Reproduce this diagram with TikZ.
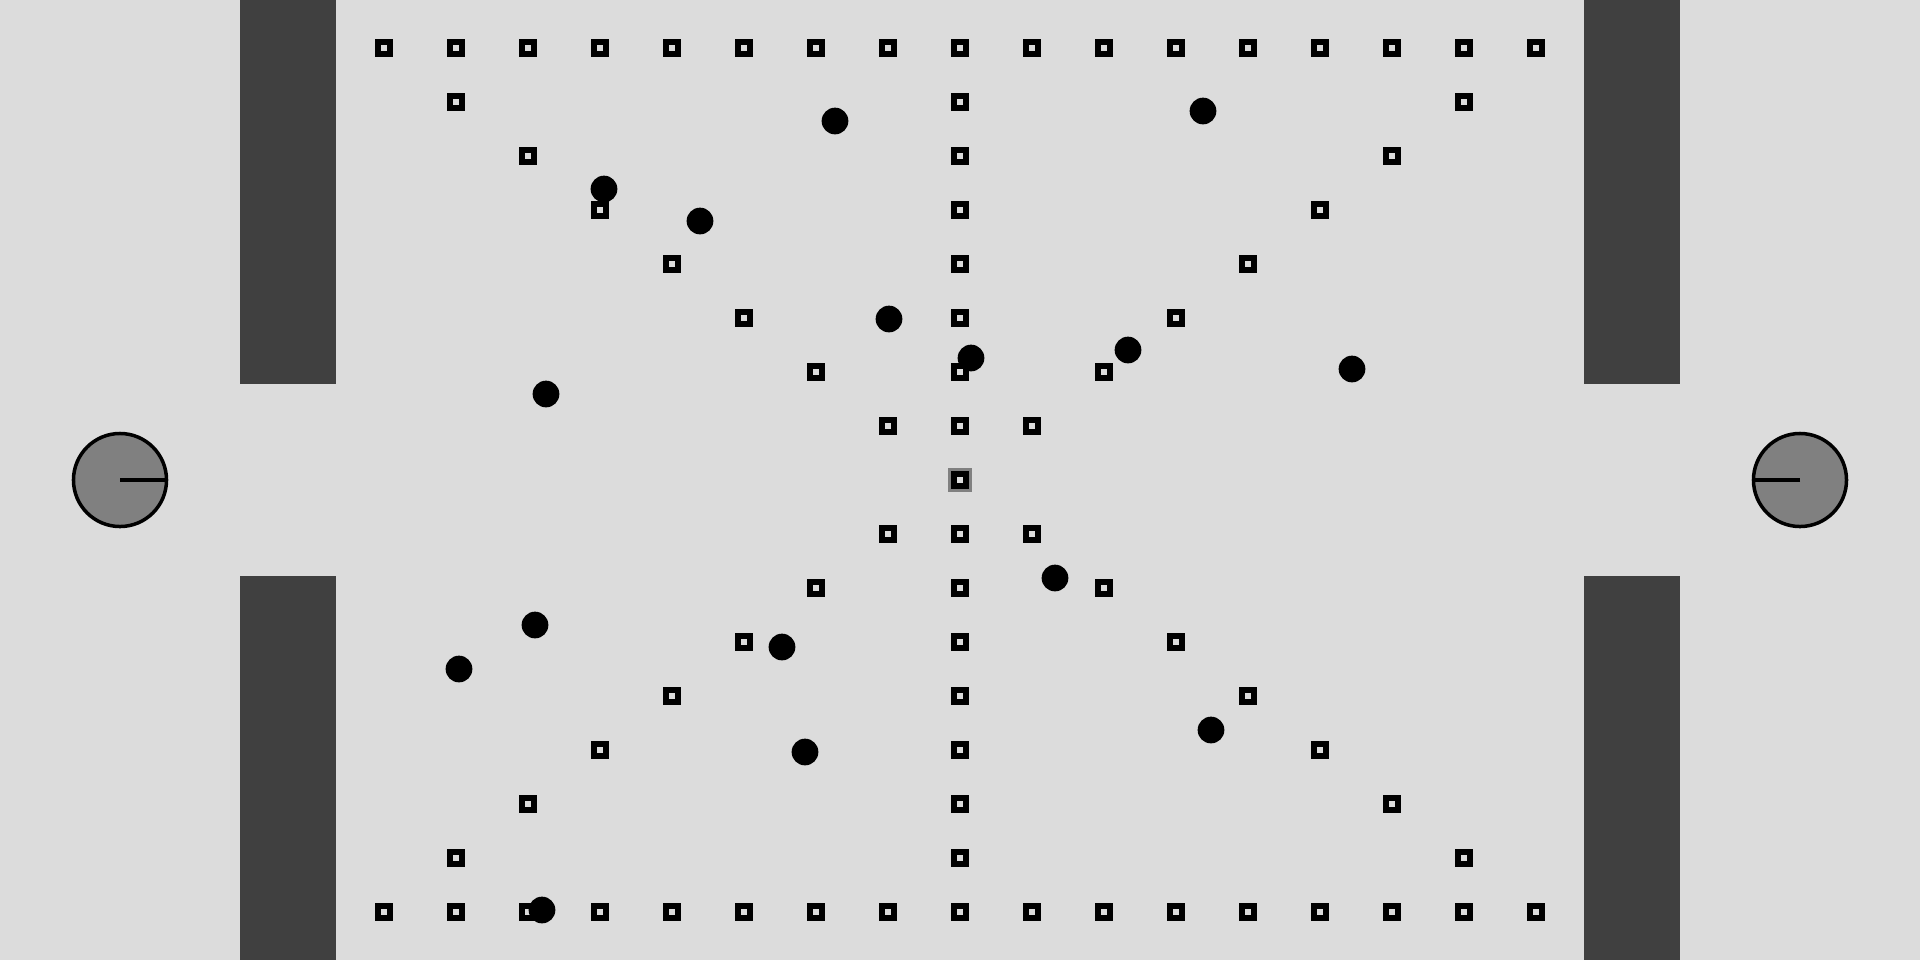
\documentclass[tikz,border=0pt]{standalone}
\usetikzlibrary{positioning}
\definecolor{field}{RGB}{220,220,220}
\definecolor{wall}{RGB}{64,64,64}
\definecolor{robot}{RGB}{128,128,128}
\tikzset{
  marker/.style={rectangle, draw=black, fill=field, line width=0.065cm,
    minimum size=0.12cm, inner sep=0pt},
  ball/.style={circle, fill=black, minimum size=0.267cm, inner sep=0pt},
  robotbody/.style={circle, draw=black, fill=robot, line width=0.035cm,
    minimum size=0.93cm, inner sep=0pt},
}

\begin{document}
\begin{tikzpicture}[x=0.01cm, y=-0.01cm]
  % field
  \fill[field] (0,0) rectangle (1920,960);
  \useasboundingbox (0,0) rectangle (1920,960);
  % walls
  \fill[wall] (240,0) rectangle (336,384);
  \fill[wall] (240,576) rectangle (336,960);
  \fill[wall] (1584,0) rectangle (1680,384);
  \fill[wall] (1584,576) rectangle (1680,960);
  % robots
  \node[robotbody] (robotL) at (120,480) {};
  \draw[line width=0.035cm] (robotL.center) -- (robotL.east);
  \node[robotbody] (robotR) at (1800,480) {};
  \draw[line width=0.035cm] (robotR.center) -- (robotR.west);
  % border rows
  \foreach \i in {0,...,16}{
    \node[marker] (top\i) at ({384+72*\i},48) {};
    \node[marker] (bot\i) at ({384+72*\i},912) {};
  }
  % centre column and diagonals
  \foreach \j in {1,...,7}{
    \node[marker] (up\j) at (960,{480-54*\j}) {};
    \node[marker] (dn\j) at (960,{480+54*\j}) {};
    \node[marker] (ul\j) at ({960-72*\j},{480-54*\j}) {};
    \node[marker] (ur\j) at ({960+72*\j},{480-54*\j}) {};
    \node[marker] (dl\j) at ({960-72*\j},{480+54*\j}) {};
    \node[marker] (dr\j) at ({960+72*\j},{480+54*\j}) {};
  }
  % centre spot
  \node[rectangle, fill=robot, minimum size=0.24cm, inner sep=0pt] (spot) at (960,480) {};
  \node[marker] (mid) at (spot) {};
  % balls
  \foreach \bx/\by [count=\n] in {835/121, 1203/111, 604/189, 700/221,
      889/319, 971/358, 1128/350, 1352/369, 546/394, 1055/578, 535/625,
      459/669, 782/647, 1211/730, 805/752, 542/910}
    \node[ball] (ball\n) at (\bx,\by) {};
\end{tikzpicture}
\end{document}
